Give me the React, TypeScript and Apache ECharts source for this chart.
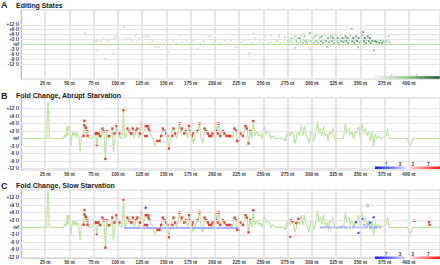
import { useEffect, useRef } from "react";
import * as echarts from "echarts";

const X_TICKS = [25, 50, 75, 100, 125, 150, 175, 200, 225, 250, 275, 300, 325, 350, 375, 400];
const Y_TICKS = [12, 9, 6, 3, 0, -3, -6, -9, -12];
const PANEL_LETTERS = ["A", "B", "C"];
const TITLES = ["Editing States", "Fold Change, Abrupt Starvation", "Fold Change, Slow Starvation"];
const LEGEND_LABELS = ["7", "3", "3", "7"];

// [nt, units, editing level 0..1]
const EDITING: [number, number, number][] = [
  [66, 7, 0.2], [67, 5, 0.2], [76, 2, 0.2], [77, 3, 0.25], [78, 2, 0.2], [78, -3.5, 0.2], [80, 3, 0.2], [82, 2, 0.25],
  [85, 4, 0.2], [87, -8.5, 0.25], [88, 3, 0.2], [90, 2, 0.2], [92, 3, 0.25], [95, -5.5, 0.25], [96, 4, 0.2], [98, 5, 0.25],
  [100, 2, 0.2], [102, 3, 0.2], [106, 10.7, 0.3], [108, 4, 0.2], [110, 3, 0.25], [112, 4, 0.2], [114, 2, 0.2], [116, 3, 0.2],
  [118, 5, 0.2], [120, 2, 0.2], [122, 4, 0.2], [125, 3, 0.25], [127, 5, 0.2],
  [129.7, 5, 0.2], [132.4, 5, 0.25], [133, 1.6, 0.2], [136.5, 2.2, 0.2], [138.3, -1.4, 0.2], [140.7, -1.4, 0.2],
  [142.8, -1.4, 0.2], [145.2, 3, 0.25], [147, 0.6, 0.2], [149.6, 2.2, 0.2], [153, -4.5, 0.2], [157.2, 2.2, 0.2],
  [160, 0.6, 0.2], [163.4, 5, 0.25], [165.8, 1.6, 0.2], [171, 2.2, 0.2], [174.4, 0.6, 0.2], [177.8, 2.2, 0.2],
  [182, -2.6, 0.2], [184.7, 0.6, 0.2], [188.2, 2.2, 0.25], [191.6, 3, 0.2], [193.3, 5, 0.25], [195.7, 5, 0.2],
  [197.8, 0.6, 0.2], [200.2, 2.2, 0.2], [203.6, 3, 0.25], [205.4, 0.6, 0.2], [210.5, 2.2, 0.2], [214, 0.6, 0.2],
  [216.4, 2.2, 0.2], [220.8, -1.7, 0.2], [223.2, -1.4, 0.2], [226, 1.6, 0.25], [229.4, 2.2, 0.2], [232.9, 3, 0.2],
  [235, -5.1, 0.25], [235.6, -7.1, 0.2], [238, 1, 0.2], [239.8, 6.7, 0.3], [241.5, 4, 0.25], [245, 1.6, 0.2],
  [247.3, 3, 0.25], [250, 1, 0.2], [252, 5, 0.25], [253.5, 3, 0.25], [255.3, 1, 0.2], [257.7, 1.6, 0.25], [258, 5.5, 0.3],
  [260.4, 0.6, 0.2], [263.8, 2.2, 0.25], [265.5, 3, 0.25], [266, 5, 0.3], [267.2, 1, 0.2], [270, -3, 0.25],
  [270.7, 1.6, 0.3], [272, 4.5, 0.35], [274.2, 2.2, 0.3], [275.9, 1.6, 0.3],
  [278, 2, 0.4], [279, 4, 0.5], [280, 1, 0.35], [281, 3, 0.6], [282.5, 5, 0.4], [283, -2, 0.4], [284, 2, 0.5],
  [285.5, 3.5, 0.55], [286, 1, 0.4], [287.5, 4, 0.6], [288.5, 2, 0.45], [289.5, 6, 0.5], [290.5, 1, 0.5], [291.5, 3, 0.65],
  [292.5, 5, 0.5], [293.5, 2, 0.6], [295, 1, 0.45], [296, 3, 0.5], [297.6, 7, 0.55], [298, -3, 0.45], [299, 2, 0.6],
  [300.5, 4, 0.55], [301.5, 1, 0.5], [302.5, 3, 0.6], [303.5, 5, 0.55], [304.5, 2, 0.65], [305.8, 6, 0.6], [306.5, 1, 0.5],
  [307.5, 3, 0.7], [308.5, 4.5, 0.6], [309.5, 2, 0.65], [310.5, 5, 0.55], [311.5, 1, 0.6], [312.5, 3, 0.75], [313.5, 6, 0.6],
  [314.5, 2, 0.7], [315.5, -1.4, 0.5], [316.5, 4, 0.7], [317.5, 1.5, 0.65], [318.5, 3, 0.8], [319.5, 5, 0.6], [320.5, 2, 0.7],
  [321.5, 4, 0.75], [322.5, 1, 0.6], [323.5, 3, 0.8], [324.5, 5.5, 0.65], [325.5, 2, 0.7], [326.5, 4, 0.8], [327.5, 1, 0.65],
  [328.5, 3, 0.85], [329.5, 6, 0.7], [330.5, 2, 0.75], [331.5, 4, 0.85], [332.5, 1.5, 0.7], [333.5, 3, 0.9], [334.5, 5, 0.75],
  [335.5, 2, 0.8], [336.5, 4, 0.9], [337.5, 1, 0.7], [338.5, 3, 0.95], [339.5, 6, 0.8], [341, 9.5, 0.7], [341.5, 2, 0.85],
  [342.5, 4, 0.9], [343.5, 1, 0.75], [344.5, 3, 1], [345.5, 5, 0.8], [346.5, 2, 0.9], [347.5, -1.8, 0.6], [348, 4, 0.95],
  [349.5, 1.5, 0.8], [350.5, 3, 1], [351.5, 5.5, 0.85], [352.6, 7.6, 0.7], [353.5, 2, 0.9], [354.5, 4, 1], [355.5, 1, 0.8],
  [356.5, 3, 0.95], [357.5, 5, 0.85], [358.5, 2, 0.9], [359.5, 4, 0.95], [360.5, 1, 0.8], [361.5, 3, 0.9], [362.5, 2, 0.85],
  [364, -3.5, 0.6], [365, 2, 0.8], [366.5, 1.5, 0.9], [368, 3, 0.75], [369.5, 1, 0.85], [371, 2.5, 0.7], [372.5, 1, 0.8],
  [374, 2, 0.6], [375.5, 1, 0.55], [377, 2, 0.5], [379, 5, 0.5], [380, 1.5, 0.45], [399.8, -1.5, 0.3],
];

// [nt, fold change units]
const FOLD_LINE: [number, number][] = [
  [0, 0], [26.5, 0], [27.5, 14.5], [28.3, 14], [29.2, 0], [43.7, 0], [45.4, 1.5], [46.5, 0.5], [47.5, 5], [48.2, 1],
  [49.2, 5.2], [50.2, 2], [51.6, -2.9], [52.5, 1], [53.3, 2.5], [54.7, 1], [56.1, 2.8], [57, 0.5], [58.1, 2], [59.5, 0.8],
  [60.9, -5.3], [62.6, 1], [64.3, 0.5], [65.4, 7], [66.3, 2], [67.1, 5], [68.5, 2], [70.5, 0], [73, 0], [75.7, 2], [77, 2],
  [78.1, -3], [79.8, 2], [81.5, 1], [82.9, 0], [83.9, 4], [85.6, 2], [87, -8.2], [88.4, 2], [90.4, 0], [92.5, 1], [94.2, 4],
  [95.3, -5.3], [97.4, 2], [98.4, 5], [99.8, 2.8], [101.5, 1], [102.8, 0], [104.2, 0.5], [105.6, 11.4], [107, 0], [108.3, 1],
  [109.7, 4], [111.8, 2], [113.8, 1], [115.2, 4], [116.9, 0], [118.3, 3], [120, 4], [121.4, 0], [122.8, 2], [124.3, 6],
  [126.2, 2], [128.6, 5], [129.7, 5], [132.4, 3], [135.9, 0], [138.3, -3], [140, -1], [142.8, -1], [144.5, 1], [146.2, 4],
  [147.9, 3], [149.6, 2], [151, 0], [152.4, -4], [154.5, 1], [157.2, 4], [158.9, 2], [160.6, 0], [163.4, 6], [164.8, 2],
  [165.8, 4], [168.2, 2], [169.9, 3], [172, 0], [173.4, 5], [174.4, 3], [176.1, 1], [177.8, -2], [179.6, 1], [182, 3],
  [184, 6], [185.8, 0], [187.5, -2], [189.2, 4], [190.6, 3], [192.6, 2], [194, 1], [196.1, 1], [197.4, 2], [199.2, 0],
  [200.5, 6], [201.9, 3], [204, 6], [205.4, 1], [208.1, 3], [209.8, 2], [211.9, 1], [214, 1], [215.7, 1], [217.7, 0],
  [220.2, 4], [221.9, 3], [222.9, -1], [224.6, -1], [226, 2], [228.8, 1], [231.5, 5], [232.9, 4], [234.6, -2], [236.3, 3],
  [238, 0], [239.4, 7], [240.8, 1], [243.2, 3], [244.9, 1], [246.6, 2], [248.4, 0], [250.8, 5], [252.8, 2], [255.2, 3],
  [257.6, 0], [259.7, 1], [262.1, 0], [270.7, 0], [272.4, -1], [274.2, 2], [275.9, 3], [277.6, 1], [279.3, 3], [281, 1],
  [282.8, -2], [285.2, 3], [287.2, 1], [288.6, 5], [290.7, 1], [292, 5], [293.4, 2], [295.5, 0], [297.2, -2], [298.9, 3],
  [300.6, 2], [301.7, -1], [303.4, 1], [305.8, 7], [307.2, 2], [308.6, 4], [310.3, 1], [312, 5], [313.4, 1], [315.4, 2],
  [316.8, -1], [318.2, 3], [319.9, 2], [321.6, 4], [323, 1], [324.7, -1], [325.8, 0], [332.6, 0], [334.4, 6], [336.1, 2],
  [338.1, 4], [339.5, 1], [341.2, 3], [343, 0], [344.7, 3], [346.4, 2], [348.1, 5], [349.8, 0], [351.6, 6], [353.3, 2],
  [355, 4], [356.7, 1], [358.4, 3], [360.2, -1], [361.9, 3], [363.6, -3], [365.3, 2], [367, 0], [368.8, 1], [370.5, 0],
  [376.3, 1], [378, 4], [379.8, 0], [398.7, 0], [400, -2], [401.4, -2.5], [402.8, -1.5], [403.8, 0], [434, 0],
];

const RED_B: [number, number][] = [
  [65.4, 7.1], [65.4, 5.3], [67.1, 4.3], [68.5, 2.9], [64.5, 1.1], [68.5, 1.1], [75.7, 2], [77, 2], [78.5, 2], [80, 2],
  [78.1, -3], [81.5, 1], [83.9, 4], [85.6, 2.9], [87, -8.2], [88.8, 2.9], [90.8, 1], [94.2, 4], [96.3, 2], [98.4, 5],
  [99.8, 2.8], [101.5, 2], [105.6, 11.4], [109.7, 4], [111.8, 2.8], [113.8, 2], [115.2, 4], [118.3, 3], [120, 4],
  [122.8, 2], [124.3, 6], [128.6, 5], [130.7, 5], [131.4, 4], [132.4, 3], [128, 1], [129.7, 1], [140.7, -1], [142.8, -1],
  [144.5, 1], [146.2, 4], [147.9, 3], [149.6, 2], [151, 1], [152.4, -4], [156.2, 1], [157.2, 4], [158.9, 2], [163.4, 6],
  [165.8, 4], [168.2, 2], [169.9, 3], [173.4, 5], [174.4, 3], [176.1, 1], [177.2, 2], [182, 3], [184, 6], [189.2, 4],
  [190.6, 3], [192.6, 2], [194, 1], [196.1, 1], [197.4, 2], [200.5, 6], [201.2, 3], [202.9, 2], [204, 6], [205.4, 1],
  [208.1, 3], [209.8, 2], [211.9, 1], [214, 1], [215.7, 1], [220.2, 4], [221.9, 3], [222.9, -1], [224.6, -1], [226, 2],
  [228.8, 1], [231.5, 5], [232.9, 4], [234.6, -2], [236.3, 3], [239.4, 7],
];
const RED_C_EXTRA: [number, number][] = [
  [278, 3], [280, 2.5], [283.5, 1.8], [286, 3.5], [277.6, -3.7], [405.6, 2.7], [420.4, 2.2], [421.4, 1.1],
];
const BLUE_C: [number, number][] = [
  [128.6, 8], [345.4, 2.1], [348, -2.2], [351.6, 3.4], [357.4, 8.9], [363.6, 4.1], [360, 2],
];
const BLUE_C_LIGHT: [number, number][] = [
  [126.3, 0.8], [130.7, 0.8], [309, 0], [311, 0], [313, 0], [315, 0.3], [318, 0], [320, 0], [323, 0], [326, 0], [329, 0],
  [331, 0.3], [334, 0], [336, 0], [339, 0], [342, 0], [344, 0.3], [347, 0], [350, 0], [352, 0], [354, 1], [355, 0],
  [357, 0.3], [358, 1.2], [360, 0], [362, 0], [365, 0], [367, 0], [370, 0],
];
const BLUE_SPAN_C: [number, number][] = [[106, -0.2], [224, -0.2]];

const FONT = "'Liberation Sans', Arial, sans-serif";
const yLabel = (v: number) => (v === 0 ? "ref" : (v > 0 ? "+" : "") + v + " U");

export default function App() {
  const ref = useRef<HTMLDivElement>(null);
  useEffect(() => {
    if (!ref.current) return;
    const chart = echarts.init(ref.current, null, { renderer: "svg" });
    const grids = [
      { left: 21, right: 0, top: 10, height: 69 },
      { left: 21, right: 0, top: 98, height: 72 },
      { left: 21, right: 0, top: 190, height: 70.9 },
    ];
    const yRanges = [[-21, 21], [-12.6, 16.2], [-12.6, 15.2]];
    const gridLineSeries = (i: number) => ({
      type: "line",
      xAxisIndex: i,
      yAxisIndex: i,
      data: [],
      z: 1,
      silent: true,
      markLine: {
        silent: true,
        symbol: ["none", "none"],
        label: { show: false },
        animation: false,
        data: [
          ...X_TICKS.map((v) => ({ xAxis: v, lineStyle: { color: "#dedede", width: 1.5, type: "solid" } })),
          ...Y_TICKS.filter((v) => v !== 0).map((v) => ({ yAxis: v, lineStyle: { color: "#e4e4e4", width: 1, type: "solid" } })),
          ...(i === 0 ? [{ yAxis: 0, lineStyle: { color: "#b9df9f", width: 1.2, type: "solid" } }] : []),
        ],
      },
    });
    const legendGradRB = () =>
      new echarts.graphic.LinearGradient(0, 0, 1, 0, [
        { offset: 0, color: "#1414ff" },
        { offset: 0.44, color: "#c8c8ff" },
        { offset: 0.5, color: "#ffffff" },
        { offset: 0.56, color: "#ffc8c8" },
        { offset: 1, color: "#ff1414" },
      ]);
    const legendLabels = (y: number) =>
      LEGEND_LABELS.map((t, k) => ({
        type: "text",
        x: [386, 400, 412.7, 428.3][k],
        y,
        style: { text: t, fontSize: 4.5, fontWeight: "bold", fontFamily: FONT, fill: "#333", align: "center", verticalAlign: "middle" },
      }));
    const titleEls = [0, 1, 2].flatMap((i) => {
      const ys = [[4.5, 5], [95.5, 95], [186, 185.5]][i];
      return [
        { type: "text", x: 1, y: ys[0], style: { text: PANEL_LETTERS[i], fontSize: 9, fontWeight: "bold", fontFamily: FONT, fill: "#222", verticalAlign: "middle" } },
        { type: "text", x: 16, y: ys[1], style: { text: TITLES[i], fontSize: 7, fontWeight: "bold", fontFamily: FONT, fill: "#222", verticalAlign: "middle" } },
      ];
    });
    chart.setOption({
      animation: false,
      grid: grids.map((g) => ({ ...g, show: true, borderColor: "#d2d2d2", borderWidth: 1, backgroundColor: "#fff" })),
      xAxis: grids.map((_, i) => ({
        gridIndex: i,
        type: "value",
        min: 0,
        max: 432,
        axisLine: { show: false },
        axisTick: { show: false },
        splitLine: { show: false },
        axisLabel: {
          customValues: X_TICKS,
          formatter: (v: number) => v + " nt",
          fontSize: 4.6,
          fontWeight: "bold",
          fontFamily: FONT,
          color: "#333",
          margin: 1.5,
        },
      })),
      yAxis: grids.map((_, i) => ({
        gridIndex: i,
        type: "value",
        min: yRanges[i][0],
        max: yRanges[i][1],
        axisLine: { show: true, lineStyle: { color: "#bdbdbd", width: 1 } },
        axisTick: { show: false },
        splitLine: { show: false },
        axisLabel: {
          customValues: Y_TICKS,
          formatter: yLabel,
          fontSize: 4.6,
          fontWeight: "bold",
          fontFamily: FONT,
          color: "#333",
          margin: 2,
        },
      })),
      visualMap: [
        {
          show: false,
          type: "continuous",
          seriesIndex: 1,
          dimension: 2,
          min: 0,
          max: 1,
          inRange: { color: ["#e4f2df", "#a6d69d", "#4c9e58", "#12561f"] },
        },
      ],
      series: [
        gridLineSeries(0),
        { type: "scatter", xAxisIndex: 0, yAxisIndex: 0, data: EDITING, symbol: "rect", symbolSize: 1.8, z: 3 },
        gridLineSeries(1),
        { type: "line", xAxisIndex: 1, yAxisIndex: 1, data: FOLD_LINE, showSymbol: false, symbol: "none", lineStyle: { color: "#bde2a2", width: 1.2 }, z: 2 },
        { type: "scatter", xAxisIndex: 1, yAxisIndex: 1, data: RED_B, symbol: "rect", symbolSize: 2.4, itemStyle: { color: "#ee1515" }, z: 3 },
        gridLineSeries(2),
        { type: "line", xAxisIndex: 2, yAxisIndex: 2, data: FOLD_LINE, showSymbol: false, symbol: "none", lineStyle: { color: "#bde2a2", width: 1.2 }, z: 2 },
        { type: "line", xAxisIndex: 2, yAxisIndex: 2, data: BLUE_SPAN_C, showSymbol: false, symbol: "none", lineStyle: { color: "#8c98ff", width: 1.4 }, z: 2 },
        { type: "scatter", xAxisIndex: 2, yAxisIndex: 2, data: BLUE_C_LIGHT, symbol: "rect", symbolSize: 2, itemStyle: { color: "#8d93ff" }, z: 3 },
        { type: "scatter", xAxisIndex: 2, yAxisIndex: 2, data: [...RED_B, ...RED_C_EXTRA], symbol: "rect", symbolSize: 2.4, itemStyle: { color: "#ee1515" }, z: 3 },
        { type: "scatter", xAxisIndex: 2, yAxisIndex: 2, data: BLUE_C, symbol: "rect", symbolSize: 2.2, itemStyle: { color: "#1f1fff" }, z: 3 },
      ],
      graphic: [
        ...titleEls,
        {
          type: "rect",
          shape: { x: 375, y: 76, width: 65, height: 3 },
          style: {
            fill: new echarts.graphic.LinearGradient(0, 0, 1, 0, [
              { offset: 0, color: "#f4faf2" },
              { offset: 0.5, color: "#8fcb8c" },
              { offset: 1, color: "#145a25" },
            ]),
            stroke: "#dddddd",
            lineWidth: 0.5,
          },
          z: 10,
        },
        { type: "line", shape: { x1: 391.7, y1: 73.8, x2: 391.7, y2: 76 }, style: { stroke: "#aaa", lineWidth: 0.7 }, z: 10 },
        { type: "line", shape: { x1: 416.7, y1: 73.8, x2: 416.7, y2: 76 }, style: { stroke: "#aaa", lineWidth: 0.7 }, z: 10 },
        { type: "rect", shape: { x: 375, y: 166.5, width: 65, height: 2.5 }, style: { fill: legendGradRB() }, z: 10 },
        ...legendLabels(164),
        { type: "rect", shape: { x: 375, y: 256.5, width: 65, height: 2.5 }, style: { fill: legendGradRB() }, z: 10 },
        ...legendLabels(254),
      ],
    });
    return () => chart.dispose();
  }, []);
  return <div ref={ref} style={{ position: "fixed", left: 0, top: 0, width: 440, height: 265, background: "#fff" }} />;
}
